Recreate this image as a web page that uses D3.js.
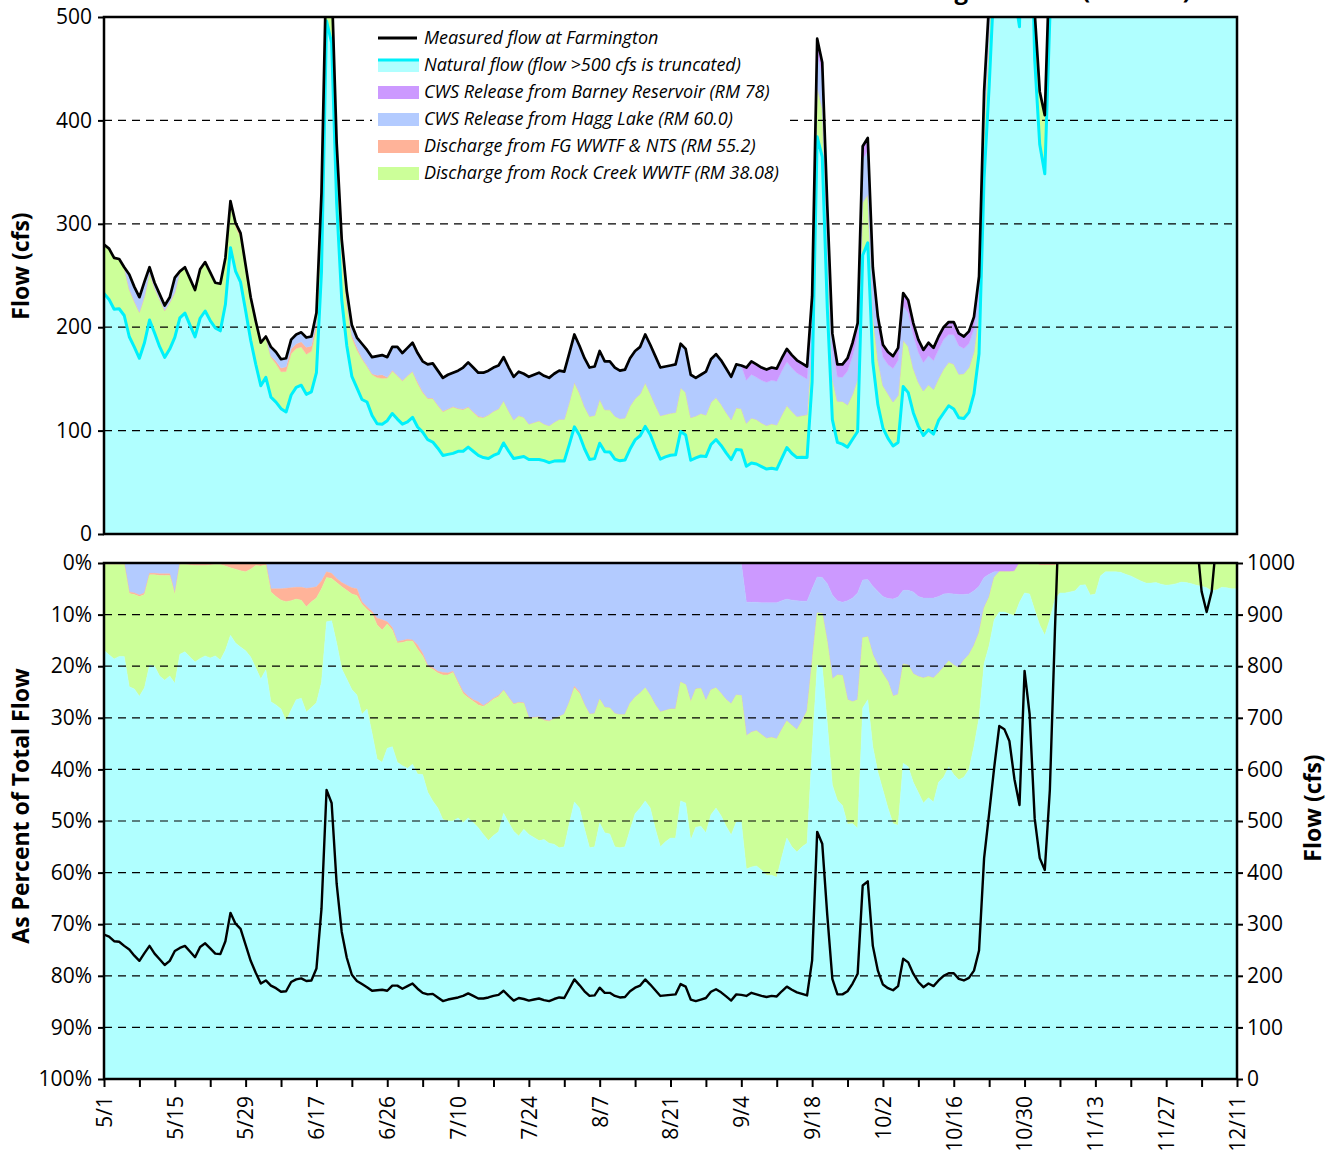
<!DOCTYPE html>
<html><head><meta charset="utf-8">
<script src="https://cdn.jsdelivr.net/npm/d3@7"></script>
<style>
body{margin:0;background:#fff;}
text{font-family:"Open Sans",sans-serif;fill:#000;}
</style></head><body>
<svg id="chart" width="1336" height="1150"></svg>
<script>
// ---- DATA (daily, 5/1 .. 12/11) ----
const measured = [
280,276,267,266,258,251,239,229,244,258,
243,232,221,229,248,254,258,247,236,256,
263,253,243,242,267,322,301,291,260,229,
206,185,191,181,176,169,170,188,193,195,
190,191,214,330,560,535,378,285,235,202,
190,184,178,171,172,173,171,181,181,175,
180,185,175,167,164,165,158,151,154,156,
158,161,166,161,156,156,158,161,163,171,
161,152,157,155,152,154,156,153,151,155,
158,157,175,193,182,170,161,162,177,167,
167,161,158,159,170,177,181,193,183,172,
161,162,163,164,184,179,154,151,154,157,
169,174,168,160,152,164,163,161,167,164,
161,159,161,160,170,179,173,168,165,162,
230,479,456,317,194,164,164,170,185,204,
375,383,258,210,183,176,172,180,233,226,
204,188,178,185,180,191,200,205,205,194,
191,196,210,249,428,515,604,684,678,655,
581,531,791,707,505,428,405,560,868,1150,
1380,1550,1700,1820,1900,1750,1600,1900,2300,2600,
2400,2100,1900,1750,1650,1600,1500,1450,1400,1380,
1350,1300,1280,1250,1220,1150,1050,945,905,945,
1050,1120,1180,1200,1220];

const pctBarney = [
0,0,0,0,0,0,0,0,0,0, 0,0,0,0,0,0,0,0,0,0,
0,0,0,0,0,0,0,0,0,0, 0,0,0,0,0,0,0,0,0,0,
0,0,0,0,0,0,0,0,0,0, 0,0,0,0,0,0,0,0,0,0,
0,0,0,0,0,0,0,0,0,0, 0,0,0,0,0,0,0,0,0,0,
0,0,0,0,0,0,0,0,0,0, 0,0,0,0,0,0,0,0,0,0,
0,0,0,0,0,0,0,0,0,0, 0,0,0,0,0,0,0,0,0,0,
0,0,0,0,0,0,0,7.6,7.6,7.6,
7.7,7.7,7.7,7.7,7.3,7.0,7.2,7.3,7.4,7.4,
5.0,2.7,2.8,4.0,6.2,7.3,7.6,7.3,6.8,5.8,
3.3,3.2,4.5,5.5,6.5,6.9,7.0,6.6,5.3,5.3,
5.6,6.5,6.8,6.8,6.8,6.5,6.0,5.9,6.0,6.1,
6.1,6.0,5.4,4.5,2.8,2.2,1.7,1.7,1.7,1.7,
1.6,0,0,0,0,0,0,0,0,0,
0,0,0,0,0,0,0,0,0,0, 0,0,0,0,0,0,0,0,0,0,
0,0,0,0,0,0,0,0,0,0, 0,0,0,0,0];

const pctHagg = [
0,0,0,0,0,5.6,5.8,6.2,5.8,2.0,
2.0,2.1,2.1,2.1,5.8,0,0,0,0,0,
0,0,0,0,0,0,0,0,0,0,
0,0,0,5.0,5.0,5.0,4.9,4.8,4.7,4.7,
4.9,4.8,4.6,3.5,1.7,2.0,3.0,3.8,4.3,4.8,
5.0,7.5,8.5,9.4,10.7,11.0,11.4,12.5,15.2,15.0,
14.8,14.9,15.9,17.5,19.8,20.3,21.0,21.2,21.3,21.0,
23.0,24.9,25.8,26.5,26.9,27.6,27.0,26.2,25.7,24.6,
26.0,27.3,27.0,27.1,30.0,29.9,29.8,30.4,30.6,30.2,
29.8,29.3,27.0,23.9,25.0,27.5,29.3,29.2,26.4,28.0,
28.1,29.2,29.4,29.4,27.2,26.0,25.2,24.2,25.7,27.5,
28.9,28.6,28.3,28.3,23.1,23.6,26.9,24.4,24.3,26.7,
24.6,24.2,25.3,26.5,27.3,25.6,25.7,25.9,25.2,24.9,
25.6,26.3,26.1,26.4,25.0,23.6,24.3,25.0,23.2,21.3,
14.2,7.0,7.0,11.3,16.3,14.4,14.2,19.2,20.1,20.7,
11.2,11.1,13.3,14.3,15.0,16.1,18.8,18.9,14.3,14.5,
15.9,15.5,15.5,15.2,15.5,14.8,14.2,13.1,13.8,14.2,
12.7,11.8,10.6,9.0,5.9,4.4,1.1,0,0,0,
0,0,0,0,0,0,0,0,0,0, 0,0,0,0,0,0,0,0,0,0,
0,0,0,0,0,0,0,0,0,0, 0,0,0,0,0,0,0,0,0,0,
0,0,0,0,0];

const pctFG = [
0.3,0.3,0.3,0.3,0.3,0.3,0.3,0.3,0.3,0.3,
0.3,0.3,0.3,0.3,0.3,0.3,0.3,0.4,0.5,0.5,
0.5,0.4,0.3,0.3,0.6,0.9,1.2,1.5,1.7,1.2,
0.5,0.6,0.4,0.6,1.5,2.2,2.6,2.5,2.3,2.5,
3.6,2.7,2.2,1.5,1.1,1.0,0.8,0.8,1.0,1.2,
1.3,0.5,0.5,0.4,1.3,2.0,0.4,0.5,0.3,0.4,
0.3,0.2,0.8,0.5,0.3,0.3,0.3,0.5,0.4,0.2,
0.3,0.4,0.3,0.3,0.6,0.2,0.2,0.2,0.2,0.1,
0.1,0.1,0.1,0.1,0.1,0.1,0.1,0.1,0.1,0,
0,0,0,0.3,0.3,0,0,0,0,0,
0,0,0,0,0,0,0,0,0,0, 0,0,0,0,0,0,0,0,0,0,
0,0,0,0,0,0,0,0,0,0, 0,0,0,0,0,0,0,0,0,0,
0,0,0,0,0,0,0,0,0,0, 0,0,0,0,0,0,0,0,0,0,
0,0,0,0,0,0,0,0,0,0, 0,0,0,0,0,0,0,0,0,0,
0,0,0,0,0,0.4,0.4,0.4,0.4,0,
0,0,0,0,0,0,0,0,0,0, 0,0,0,0,0,0,0,0,0,0,
0,0,0,0,0,0,0,0,0,0, 0,0,0,0,0];

const pctRockCreek = [
16.6,17.5,18.3,17.8,17.8,18.1,18.3,19.3,18.1,17.5,
17.7,19.5,20.3,19.5,17.2,17.4,16.9,17.8,18.7,18.0,
17.5,18.0,17.7,18.5,16.3,13.1,14.3,14.8,15.3,17.0,
19.8,21.9,20.3,21.3,21.0,21.1,23.1,21.2,19.5,19.0,
20.4,20.5,20.3,18.1,8.6,8.2,11.7,15.9,17.2,18.5,
19.3,21.3,19.3,23.2,26.0,25.6,24.1,22.6,23.1,23.9,
24.7,23.9,24.2,23.0,24.3,25.5,26.2,28.0,28.3,28.8,
26.1,25.0,23.3,23.5,23.8,24.8,26.6,26.4,26.2,23.8,
24.2,24.6,25.8,24.4,22.5,23.2,23.9,23.1,23.6,24.3,
25.4,25.7,23.5,22.1,22.2,24.0,25.9,25.8,24.0,24.3,
24.4,25.8,25.8,25.6,24.5,22.6,22.3,21.9,21.8,24.0,
26.1,25.4,25.0,25.0,23.0,22.9,26.8,26.8,26.7,25.6,
24.2,23.3,23.7,24.5,25.4,24.6,24.5,25.8,26.1,26.2,
26.2,26.5,26.7,26.8,24.7,22.7,23.5,23.7,24.4,25.6,
16.8,10.1,10.2,15.7,20.5,24.3,25.2,24.1,23.6,24.9,
13.6,12.2,17.8,20.7,22.5,24.5,24.7,25.3,19.2,19.7,
21.0,22.5,24.2,23.5,24.0,21.2,21.3,20.5,21.2,21.7,
22.7,22.2,19.5,16.5,10.8,9.4,8.2,7.8,7.8,8.2,
8.6,7.6,5.8,6.0,9.1,11.6,13.6,10.5,6.6,5.8,
5.8,5.6,5.4,4.3,4.2,6.2,6.0,2.5,1.7,1.7,
1.7,1.8,2.2,2.5,3.0,3.5,3.9,3.9,3.8,4.1,
4.3,4.2,4.0,3.7,3.8,4.0,4.3,4.5,4.8,5.4,
5.2,4.7,4.8,5.0,5.0];

const dateLabels = ["5/1","5/15","5/29","6/17","6/26","7/10","7/24","8/7","8/21","9/4","9/18","10/2","10/16","10/30","11/13","11/27","12/11"];
const flowTicks = [0,100,200,300,400,500];
const flowGrid = [100,200,300,400];
const pctTicks = [0,10,20,30,40,50,60,70,80,90,100];
const flowTicks2 = [0,100,200,300,400,500,600,700,800,900,1000];

const seriesNames = {
  measured:"Measured flow at Farmington",
  natural:"Natural flow (flow >500 cfs is truncated)",
  barney:"CWS Release from Barney Reservoir (RM 78)",
  hagg:"CWS Release from Hagg Lake (RM 60.0)",
  fg:"Discharge from FG WWTF & NTS (RM 55.2)",
  rc:"Discharge from Rock Creek WWTF (RM 38.08)"
};
const fillColor = {natural:"#b0ffff", rc:"#ccff99", fg:"#ffb399", hagg:"#b3cbff", barney:"#cc99ff"};

// ---- LAYOUT ----
const svg = d3.select("#chart");
const xL=104, xR=1237, top1=17, bot1=534, top2=563, bot2=1079;
const x = d3.scaleLinear().domain([0,224]).range([xL,xR]);
const yFlow = d3.scaleLinear().domain([0,500]).range([bot1,top1]);
const yPct = d3.scaleLinear().domain([0,100]).range([top2,bot2]);
const yFlow2 = d3.scaleLinear().domain([0,1000]).range([bot2,top2]);

const rows = measured.map((t,i)=>{
  const b=pctBarney[i],h=pctHagg[i],f=pctFG[i],r=pctRockCreek[i];
  const n=100-b-h-f-r;
  return {i,t,
    pct:{barney:b,hagg:h,fg:f,rc:r,natural:n},
    cfs:{natural:t*n/100,rc:t*r/100,fg:t*f/100,hagg:t*h/100,barney:t*b/100}};
});

const defs = svg.append("defs");
defs.append("clipPath").attr("id","clipTop").append("rect")
  .attr("x",xL).attr("y",top1).attr("width",xR-xL).attr("height",bot1-top1);
defs.append("clipPath").attr("id","clipBot").append("rect")
  .attr("x",xL).attr("y",top2).attr("width",xR-xL).attr("height",bot2-top2);

// title (cropped at the top edge, as in the reference)
svg.append("text").attr("x",1191).attr("y",-1).attr("text-anchor","end")
  .attr("font-size",24).attr("font-weight","bold")
  .text("Tualatin River Flow at Farmington Road (RM 33.3)");

// ---- TOP PANEL ----
const gTop = svg.append("g").attr("clip-path","url(#clipTop)");
const topStack = d3.stack().keys(["natural","rc","fg","hagg","barney"]).value((d,k)=>d.cfs[k])(rows);
const areaTop = d3.area().x(d=>x(d.data.i)).y0(d=>yFlow(d[0])).y1(d=>yFlow(d[1]));
gTop.selectAll("path.ar").data(topStack).join("path").attr("class","ar")
  .attr("d",areaTop).attr("fill",d=>fillColor[d.key]).attr("stroke",d=>fillColor[d.key]).attr("stroke-width",0.4);

gTop.selectAll("line.grid").data(flowGrid).join("line").attr("class","grid")
  .attr("x1",xL).attr("x2",xR).attr("y1",d=>yFlow(d)).attr("y2",d=>yFlow(d))
  .attr("stroke","#000").attr("stroke-width",1.2).attr("stroke-dasharray","8,6");

gTop.append("path").datum(rows)
  .attr("d",d3.line().x(d=>x(d.i)).y(d=>yFlow(d.cfs.natural)))
  .attr("fill","none").attr("stroke","#00f0fa").attr("stroke-width",3).attr("stroke-linejoin","round");
gTop.append("path").datum(rows)
  .attr("d",d3.line().x(d=>x(d.i)).y(d=>yFlow(d.t)))
  .attr("fill","none").attr("stroke","#000").attr("stroke-width",2.7).attr("stroke-linejoin","round");

const axL1 = svg.append("g").attr("transform",`translate(${xL},0)`)
  .call(d3.axisLeft(yFlow).tickValues(flowTicks).tickSize(6).tickPadding(6));
axL1.select(".domain").remove();
axL1.selectAll("text").attr("font-size",21).attr("font-family","Open Sans");
axL1.selectAll("line").attr("stroke-width",2);

svg.append("rect").attr("x",xL).attr("y",top1).attr("width",xR-xL).attr("height",bot1-top1)
  .attr("fill","none").attr("stroke","#000").attr("stroke-width",2.5);

// legend
const lg = svg.append("g");
lg.append("rect").attr("x",372).attr("y",26).attr("width",414).attr("height",160).attr("fill","#fff");
const legendItems = ["measured","natural","barney","hagg","fg","rc"];
legendItems.forEach((k,i)=>{
  const cy = 38 + i*27;
  if(k==="measured"){
    lg.append("line").attr("x1",378).attr("x2",417).attr("y1",cy).attr("y2",cy)
      .attr("stroke","#000").attr("stroke-width",3);
  } else if(k==="natural"){
    lg.append("rect").attr("x",378).attr("y",cy-6).attr("width",41).attr("height",13).attr("fill",fillColor.natural);
    lg.append("line").attr("x1",378).attr("x2",419).attr("y1",cy-5).attr("y2",cy-5)
      .attr("stroke","#00f0fa").attr("stroke-width",3);
  } else {
    lg.append("rect").attr("x",378).attr("y",cy-6).attr("width",41).attr("height",13).attr("fill",fillColor[k]);
  }
  lg.append("text").attr("x",424).attr("y",cy+6).attr("font-size",18).attr("font-style","italic")
    .attr("fill","#222").text(seriesNames[k]);
});

// ---- BOTTOM PANEL ----
const gBot = svg.append("g").attr("clip-path","url(#clipBot)");
const botStack = d3.stack().keys(["barney","hagg","fg","rc","natural"]).value((d,k)=>d.pct[k])(rows);
const areaBot = d3.area().x(d=>x(d.data.i)).y0(d=>yPct(d[0])).y1(d=>yPct(d[1]));
gBot.selectAll("path.ar").data(botStack).join("path").attr("class","ar")
  .attr("d",areaBot).attr("fill",d=>fillColor[d.key]).attr("stroke",d=>fillColor[d.key]).attr("stroke-width",0.4);

gBot.selectAll("line.grid").data(pctTicks.filter(v=>v>0&&v<100)).join("line").attr("class","grid")
  .attr("x1",xL).attr("x2",xR).attr("y1",d=>yPct(d)).attr("y2",d=>yPct(d))
  .attr("stroke","#000").attr("stroke-width",1.2).attr("stroke-dasharray","8,6");

gBot.append("path").datum(rows)
  .attr("d",d3.line().x(d=>x(d.i)).y(d=>yFlow2(d.t)))
  .attr("fill","none").attr("stroke","#000").attr("stroke-width",2.4).attr("stroke-linejoin","round");

const axL2 = svg.append("g").attr("transform",`translate(${xL},0)`)
  .call(d3.axisLeft(yPct).tickValues(pctTicks).tickSize(6).tickPadding(6).tickFormat(d=>d+"%"));
axL2.select(".domain").remove();
axL2.selectAll("text").attr("font-size",21).attr("font-family","Open Sans");
axL2.selectAll("line").attr("stroke-width",2);

const axR2 = svg.append("g").attr("transform",`translate(${xR},0)`)
  .call(d3.axisRight(yFlow2).tickValues(flowTicks2).tickSize(6).tickPadding(4).tickFormat(d3.format("d")));
axR2.select(".domain").remove();
axR2.selectAll("text").attr("font-size",21).attr("font-family","Open Sans");
axR2.selectAll("line").attr("stroke-width",2);

const axB = svg.append("g").attr("transform",`translate(0,${bot2})`)
  .call(d3.axisBottom(x).tickValues(d3.range(0,225,7)).tickSize(8)
    .tickFormat((d,i)=> i%2===0 ? dateLabels[i/2] : ""));
axB.select(".domain").remove();
axB.selectAll("line").attr("stroke-width",2);
axB.selectAll("text").attr("font-size",21).attr("font-family","Open Sans")
  .attr("transform","rotate(-90)").attr("text-anchor","end")
  .attr("x",-17).attr("y",0).attr("dy","0.35em");

svg.append("rect").attr("x",xL).attr("y",top2).attr("width",xR-xL).attr("height",bot2-top2)
  .attr("fill","none").attr("stroke","#000").attr("stroke-width",2.5);

// axis titles
svg.append("text").attr("transform","translate(29,266) rotate(-90)").attr("text-anchor","middle")
  .attr("font-size",23).attr("font-weight","bold").text("Flow (cfs)");
svg.append("text").attr("transform","translate(29,806) rotate(-90)").attr("text-anchor","middle")
  .attr("font-size",23).attr("font-weight","bold").text("As Percent of Total Flow");
svg.append("text").attr("transform","translate(1321,808) rotate(-90)").attr("text-anchor","middle")
  .attr("font-size",23).attr("font-weight","bold").text("Flow (cfs)");
</script>
</body></html>
